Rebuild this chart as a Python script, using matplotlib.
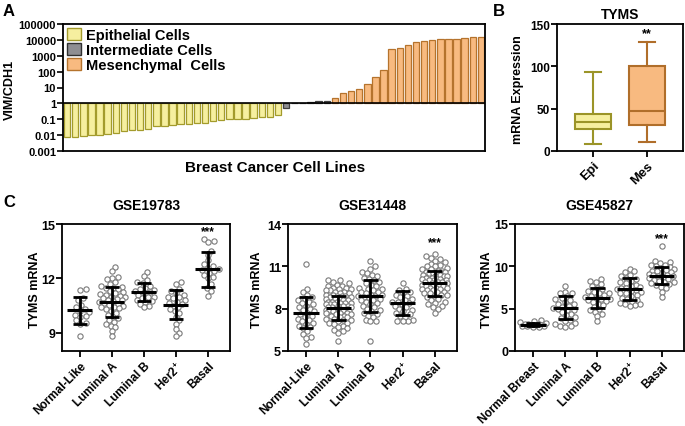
import matplotlib
matplotlib.use('Agg')
import matplotlib.pyplot as plt
import numpy as np
from matplotlib.patches import Patch

plt.rcParams['font.family'] = ['Liberation Sans', 'DejaVu Sans']
plt.rcParams['font.weight'] = 'bold'
plt.rcParams['axes.labelweight'] = 'bold'
plt.rcParams['mathtext.fontset'] = 'custom'
plt.rcParams['mathtext.bf'] = 'Liberation Sans:bold'
plt.rcParams['mathtext.rm'] = 'Liberation Sans:bold'
plt.rcParams['mathtext.default'] = 'bf'

# ---------------- data ----------------
# Panel A: VIM/CDH1 ratio per cell line (sorted)
epi_ratio = [0.0071, 0.0077, 0.0089, 0.0103, 0.0105, 0.0114, 0.0146, 0.0185, 0.0205,
             0.0225, 0.026, 0.035, 0.038, 0.042, 0.049, 0.05, 0.054, 0.057, 0.073,
             0.092, 0.1, 0.1, 0.11, 0.118, 0.13, 0.145, 0.18]
int_ratio = [0.5, 1.1, 1.1, 1.2, 1.4, 1.5]
mes_ratio = [2.1, 4.3, 6.3, 8.1, 15.8, 44, 127, 2700, 2950, 4800, 7000, 8200, 9500,
             11000, 11500, 12000, 13400, 16000, 16000]

# Panel B: TYMS box stats
box_labels = ['Epi', 'Mes']
box_whislo = [8, 11]
box_q1 = [26, 31]
box_med = [34, 47]
box_q3 = [44, 100]
box_whishi = [93, 129]

# Panel C
subtypes = ['Normal-Like', 'Luminal A', 'Luminal B', 'Her2$^{+}$', 'Basal']
subtypes_45827 = ['Normal Breast', 'Luminal A', 'Luminal B', 'Her2$^{+}$', 'Basal']

gse19783 = [
    [11.4, 11.35, 10.9, 10.8, 10.55, 10.4, 10.3, 10.2, 10.15, 10.0, 9.95, 9.9, 9.7, 9.55, 9.5, 8.85],
    [12.65, 12.4, 12.1, 12.05, 11.95, 11.8, 11.7, 11.6, 11.55, 11.5, 11.45, 11.4, 11.3, 11.25,
     11.2, 11.15, 11.1, 11.05, 11.0, 10.95, 10.9, 10.85, 10.8, 10.8, 10.75, 10.7, 10.65, 10.6,
     10.55, 10.5, 10.45, 10.4, 10.35, 10.3, 10.2, 10.1, 10.0, 9.9, 9.8, 9.7, 9.6, 9.5, 9.4,
     9.3, 9.1, 8.8],
    [12.35, 12.15, 11.9, 11.8, 11.75, 11.6, 11.5, 11.4, 11.35, 11.3, 11.25, 11.2, 11.1, 11.0,
     10.95, 10.9, 10.8, 10.75, 10.7, 10.6, 10.5, 10.4],
    [11.8, 11.7, 11.4, 11.3, 11.2, 11.1, 11.0, 10.95, 10.9, 10.8, 10.7, 10.65, 10.6, 10.5,
     10.4, 10.3, 10.2, 10.1, 9.9, 9.7, 9.5, 9.2, 9.0, 8.8],
    [14.2, 14.05, 14.0, 13.5, 13.3, 13.0, 12.8, 12.7, 12.6, 12.5, 12.45, 12.4, 12.3, 12.2,
     12.1, 12.0, 11.7, 11.5, 11.3, 11.05],
]
gse19783_mean = [10.25, 10.72, 11.25, 10.56, 12.5]
gse19783_sd = [0.75, 0.83, 0.5, 0.8, 0.95]

gse31448 = [
    [11.2, 9.4, 9.2, 9.0, 8.8, 8.7, 8.6, 8.5, 8.4, 8.3, 8.2, 8.1, 8.0, 7.9, 7.8, 7.7, 7.6,
     7.5, 7.4, 7.3, 7.2, 7.1, 7.0, 6.9, 6.8, 6.7, 6.6, 6.4, 6.2, 6.0, 5.9, 5.5],
    [10.0, 10.0, 9.9, 9.8, 9.7, 9.6, 9.6, 9.5, 9.5, 9.4, 9.4, 9.3, 9.3, 9.2, 9.2, 9.1, 9.1,
     9.0, 9.0, 8.9, 8.9, 8.9, 8.8, 8.8, 8.7, 8.7, 8.7, 8.6, 8.6, 8.5, 8.5, 8.5, 8.4, 8.4,
     8.4, 8.3, 8.3, 8.3, 8.2, 8.2, 8.2, 8.1, 8.1, 8.1, 8.0, 8.0, 8.0, 7.9, 7.9, 7.9, 7.8,
     7.8, 7.8, 7.7, 7.7, 7.7, 7.6, 7.6, 7.5, 7.5, 7.4, 7.4, 7.3, 7.3, 7.2, 7.2, 7.1, 7.0,
     7.0, 6.9, 6.8, 6.7, 6.6, 6.5, 6.4, 6.3, 5.7],
    [11.4, 11.0, 10.8, 10.6, 10.5, 10.4, 10.3, 10.2, 10.1, 10.0, 9.9, 9.8, 9.7, 9.6, 9.5,
     9.4, 9.4, 9.3, 9.2, 9.2, 9.1, 9.0, 9.0, 8.9, 8.9, 8.8, 8.8, 8.7, 8.6, 8.6, 8.5, 8.4,
     8.3, 8.2, 8.1, 8.0, 7.9, 7.8, 7.7, 7.6, 7.5, 7.4, 7.2, 7.1, 7.1, 5.7],
    [9.8, 9.4, 9.3, 9.2, 9.1, 9.0, 8.9, 8.8, 8.7, 8.6, 8.5, 8.5, 8.4, 8.3, 8.2, 8.1, 8.0,
     7.9, 7.8, 7.7, 7.6, 7.5, 7.4, 7.2, 7.1, 7.1, 7.1],
    [11.9, 11.7, 11.6, 11.5, 11.4, 11.3, 11.2, 11.1, 11.0, 11.0, 10.9, 10.8, 10.8, 10.7,
     10.7, 10.6, 10.6, 10.5, 10.5, 10.4, 10.4, 10.3, 10.3, 10.3, 10.2, 10.2, 10.1, 10.1,
     10.1, 10.0, 10.0, 10.0, 9.9, 9.9, 9.9, 9.8, 9.8, 9.8, 9.7, 9.7, 9.7, 9.6, 9.6, 9.6,
     9.5, 9.5, 9.5, 9.4, 9.4, 9.3, 9.3, 9.2, 9.2, 9.1, 9.1, 9.0, 9.0, 8.9, 8.8, 8.7, 8.6,
     8.5, 8.4, 8.3, 8.2, 8.1, 8.0, 7.7],
]
gse31448_mean = [7.7, 8.05, 8.88, 8.4, 9.8]
gse31448_sd = [1.1, 0.85, 1.14, 0.83, 0.87]

gse45827 = [
    [3.7, 3.5, 3.4, 3.3, 3.2, 3.2, 3.15, 3.1, 3.1, 3.05, 3.0, 2.95, 2.9, 2.85, 2.8],
    [7.7, 7.0, 6.9, 6.8, 6.5, 6.3, 6.1, 6.0, 5.8, 5.6, 5.5, 5.3, 5.2, 5.1, 5.0, 4.9, 4.8,
     4.6, 4.4, 4.2, 4.0, 3.9, 3.7, 3.5, 3.3, 3.2, 3.0, 2.9, 2.8],
    [8.5, 8.3, 8.2, 7.9, 7.7, 7.5, 7.3, 7.1, 7.0, 6.9, 6.8, 6.6, 6.5, 6.4, 6.3, 6.2, 6.1,
     6.0, 5.9, 5.8, 5.6, 5.4, 5.2, 5.0, 4.8, 4.6, 4.4, 4.1, 3.5],
    [9.7, 9.4, 9.3, 9.0, 8.8, 8.6, 8.5, 8.3, 8.1, 8.0, 7.8, 7.7, 7.6, 7.5, 7.4, 7.3, 7.2,
     7.1, 7.0, 6.9, 6.8, 6.6, 6.5, 6.3, 6.1, 6.0, 5.8, 5.7, 5.6, 5.5, 5.4, 5.3],
    [12.4, 10.6, 10.5, 10.4, 10.2, 10.1, 10.0, 9.9, 9.8, 9.7, 9.6, 9.5, 9.4, 9.3, 9.2, 9.1,
     9.0, 9.0, 8.9, 8.8, 8.7, 8.6, 8.5, 8.4, 8.3, 8.2, 8.1, 8.0, 7.9, 7.8, 7.6, 7.4, 7.0, 6.4],
]
gse45827_mean = [3.11, 5.1, 6.26, 7.33, 8.9]
gse45827_sd = [0.2, 1.35, 1.24, 1.28, 1.0]

W, H = 685, 427
fig = plt.figure(figsize=(W / 100, H / 100), dpi=100)


def px_axes(left, top, right, bottom):
    return fig.add_axes([left / W, 1 - bottom / H, (right - left) / W, (bottom - top) / H])


SPINE_LW = 1.3

# ---------------- Panel A ----------------
axA = px_axes(63, 25, 485, 152)
vals = epi_ratio + int_ratio + mes_ratio
faces = ['#F6EF9F'] * len(epi_ratio) + ['#8E8E92'] * len(int_ratio) + ['#F8BA80'] * len(mes_ratio)
edges = ['#A39B2C'] * len(epi_ratio) + ['#404040'] * len(int_ratio) + ['#B5732D'] * len(mes_ratio)
xA = np.arange(len(vals))
axA.bar(xA, np.array(vals) - 1, bottom=1, width=0.8, color=faces, edgecolor=edges, linewidth=0.9)
axA.set_yscale('log')
axA.set_ylim(0.001, 100000)
axA.set_xlim(-0.5, len(vals) - 0.5)
axA.axhline(1, color='black', lw=1.2)
axA.set_xticks([])
axA.set_yticks([0.001, 0.01, 0.1, 1, 10, 100, 1000, 10000, 100000])
axA.set_yticklabels(['0.001', '0.01', '0.1', '1', '10', '100', '1000', '10000', '100000'])
axA.tick_params(axis='y', labelsize=8, width=1.2, length=4, pad=1)
axA.tick_params(axis='y', which='minor', width=0.8, length=2.5)
for s in axA.spines.values():
    s.set_linewidth(SPINE_LW)
handles = [Patch(facecolor='#F6EF9F', edgecolor='#A39B2C', lw=1),
           Patch(facecolor='#8E8E92', edgecolor='#303030', lw=1),
           Patch(facecolor='#F8BA80', edgecolor='#B5732D', lw=1)]
axA.legend(handles, ['Epithelial Cells', 'Intermediate Cells', 'Mesenchymal  Cells'],
           loc='upper left', frameon=False, fontsize=10.5, handlelength=0.9, handleheight=0.9,
           handletextpad=0.4, labelspacing=0.05, borderaxespad=0.1, borderpad=0.2)
fig.text(10 / W, 1 - 90 / H, 'VIM/CDH1', rotation=90, ha='center', va='center', fontsize=9)
fig.text(275 / W, 1 - 168 / H, 'Breast Cancer Cell Lines', ha='center', va='center', fontsize=11)
fig.text(3 / W, 1 - 12 / H, 'A', ha='left', va='center', fontsize=12)

# ---------------- Panel B ----------------
axB = px_axes(557, 25, 683, 152)
stats = []
for i in range(len(box_labels)):
    stats.append(dict(label=box_labels[i], whislo=box_whislo[i], q1=box_q1[i], med=box_med[i],
                      q3=box_q3[i], whishi=box_whishi[i], fliers=[]))
bfaces = ['#F6EF9F', '#F8BA80']
bedges = ['#9B9428', '#B06E2A']
bp = axB.bxp(stats, positions=[0, 1], widths=0.68, patch_artist=True, showfliers=False,
             capwidths=0.3)
for i in range(2):
    bp['boxes'][i].set(facecolor=bfaces[i], edgecolor=bedges[i], linewidth=1.5)
    bp['medians'][i].set(color=bedges[i], linewidth=1.5)
    for k in (2 * i, 2 * i + 1):
        bp['whiskers'][k].set(color=bedges[i], linewidth=1.5)
        bp['caps'][k].set(color=bedges[i], linewidth=1.5)
axB.set_xlim(-0.67, 1.67)
axB.set_ylim(0, 150)
axB.set_yticks([0, 50, 100, 150])
axB.set_xticks([0, 1])
axB.set_xticklabels(box_labels, rotation=45, ha='right', rotation_mode='anchor', fontsize=9.5)
axB.tick_params(axis='y', labelsize=8.5, width=1.3, length=4, pad=1)
axB.tick_params(axis='x', width=1.3, length=4, pad=2)
for s in axB.spines.values():
    s.set_linewidth(SPINE_LW)
axB.text(1, box_whishi[1] + 3, '**', ha='center', va='bottom', fontsize=9)
axB.set_title('TYMS', fontsize=10, fontweight='bold', pad=4)
fig.text(518 / W, 1 - 90 / H, 'mRNA Expression', rotation=90, ha='center', va='center', fontsize=9)
fig.text(493 / W, 1 - 12 / H, 'B', ha='left', va='center', fontsize=12)


# ---------------- Panel C ----------------
def swarm_offsets(ypx, diam, cap):
    # simple beeswarm layout: offsets in pixels
    order = np.argsort(ypx)
    placed = []
    offs = np.zeros(len(ypx))
    cands = [0.0]
    step = 0.7
    k = 1
    while k * step <= cap:
        cands += [k * step, -k * step]
        k += 1
    for idx in order:
        y = ypx[idx]
        best, best_d = 0.0, -1
        for c in cands:
            dmin = min([np.hypot(c - px, y - py) for px, py in placed] + [1e9])
            if dmin >= diam:
                best = c
                best_d = 1e9
                break
            if dmin > best_d:
                best, best_d = c, dmin
        offs[idx] = best
        placed.append((best, y))
    return offs


def scatter_panel(box, groups, means, sds, labels, ylim, yticks, title, ylab_x, star_y):
    left, top, right, bottom = box
    ax = px_axes(left, top, right, bottom)
    xlim = (-0.56, 4.69)
    ax.set_xlim(*xlim)
    ax.set_ylim(*ylim)
    sx = (right - left) / (xlim[1] - xlim[0])
    sy = (bottom - top) / (ylim[1] - ylim[0])
    for i, g in enumerate(groups):
        g = np.array(g)
        offs = swarm_offsets(g * sy, 5.0, 13.0) / sx
        ax.plot(i + offs, g, 'o', ms=3.8, mfc='white', mec='#7a7a7a', mew=0.8, zorder=2)
        m, s = means[i], sds[i]
        ax.plot([i - 0.39, i + 0.39], [m, m], color='black', lw=2.2, zorder=3, solid_capstyle='butt')
        ax.plot([i, i], [m - s, m + s], color='black', lw=2.0, zorder=3)
        ax.plot([i - 0.23, i + 0.23], [m + s, m + s], color='black', lw=2.0, zorder=3, solid_capstyle='butt')
        ax.plot([i - 0.23, i + 0.23], [m - s, m - s], color='black', lw=2.0, zorder=3, solid_capstyle='butt')
    ax.text(4, star_y, '***', ha='center', va='center', fontsize=8.5)
    ax.set_yticks(yticks)
    ax.set_xticks(range(len(labels)))
    ax.set_xticklabels(labels, rotation=45, ha='right', rotation_mode='anchor', fontsize=8.5)
    ax.tick_params(axis='y', labelsize=9, width=1.3, length=4, pad=1)
    ax.tick_params(axis='x', width=1.3, length=4, pad=2)
    for s in ax.spines.values():
        s.set_linewidth(SPINE_LW)
    ax.set_title(title, fontsize=10, fontweight='bold', pad=11)
    fig.text(ylab_x / W, 1 - 290 / H, 'TYMS mRNA', rotation=90, ha='center', va='center', fontsize=9)
    return ax


scatter_panel((62, 225, 230, 352), gse19783, gse19783_mean, gse19783_sd, subtypes,
              (8, 15), [9, 12, 15], 'GSE19783', 35, 14.63)
scatter_panel((288, 225, 457, 352), gse31448, gse31448_mean, gse31448_sd, subtypes,
              (5, 14), [5, 8, 11, 14], 'GSE31448', 257, 12.74)
scatter_panel((515, 225, 684, 352), gse45827, gse45827_mean, gse45827_sd, subtypes_45827,
              (0, 15), [0, 5, 10, 15], 'GSE45827', 487, 13.3)
fig.text(3 / W, 1 - 203 / H, 'C', ha='left', va='center', fontsize=12)

fig.savefig('out.png', dpi=100)
